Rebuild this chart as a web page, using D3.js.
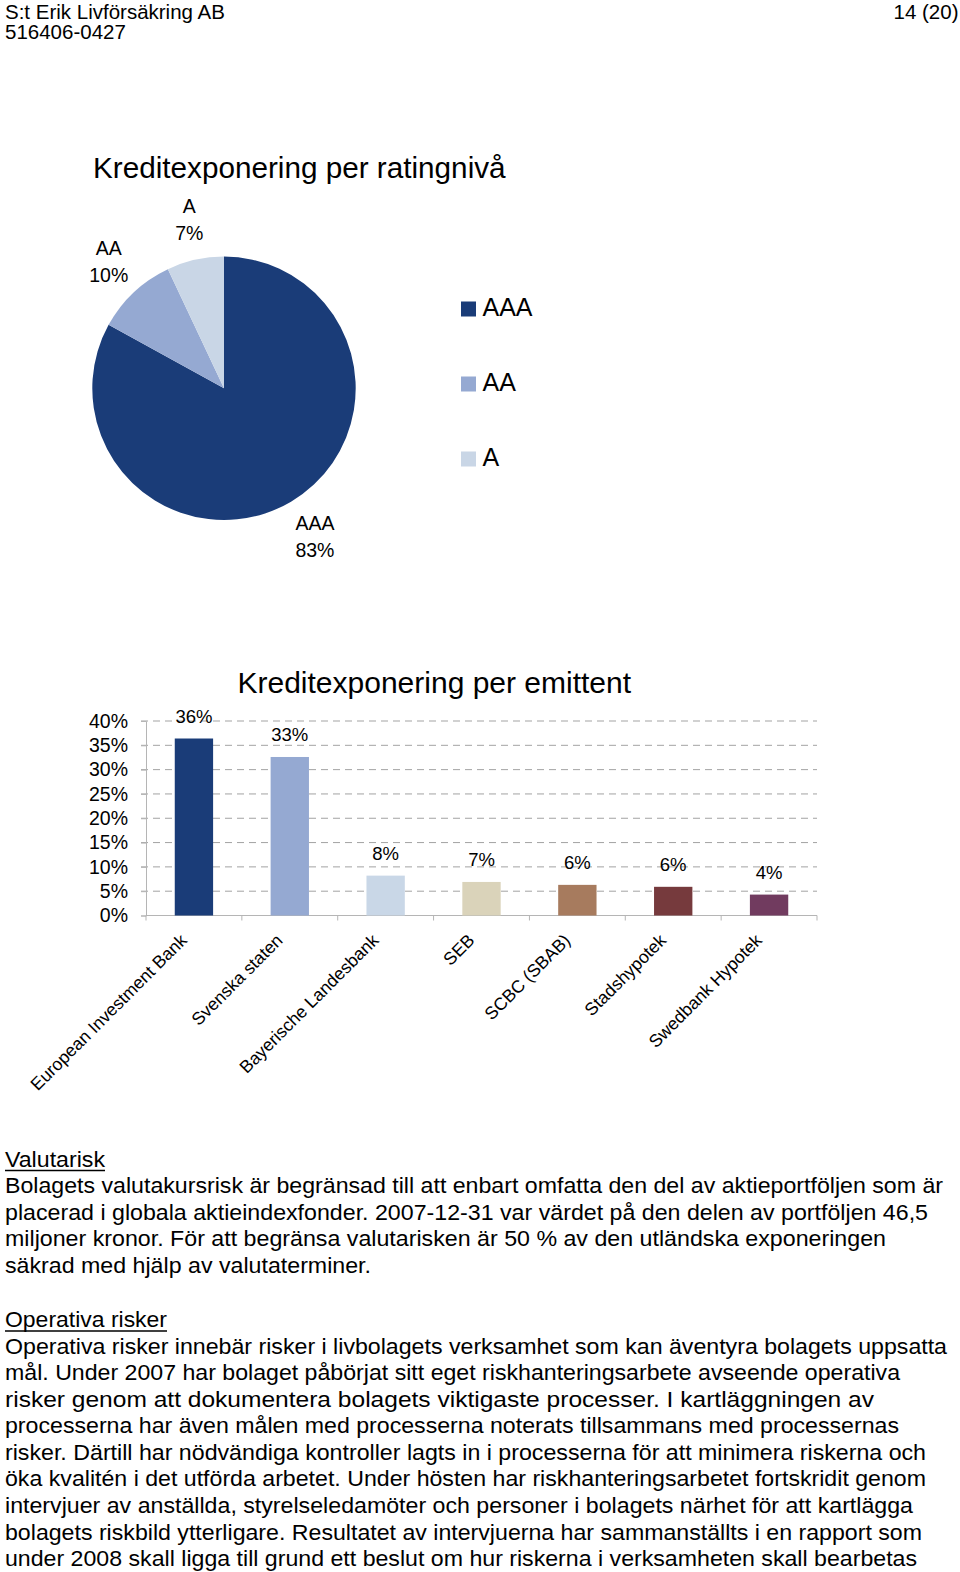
<!DOCTYPE html>
<html><head><meta charset="utf-8">
<script src="https://cdn.jsdelivr.net/npm/d3@7"></script>
<style>
body{margin:0;background:#fff}
svg{display:block}
text{font-family:"Liberation Sans",Arial,sans-serif;fill:#000}
</style>
</head><body>
<svg id="c" width="960" height="1572"></svg>
<script>
// ---------- data ----------
const ratingLabels = ["AAA", "AA", "A"];
const ratingValues = [83, 10, 7];

const issuers = ["European Investment Bank", "Svenska staten", "Bayerische Landesbank", "SEB", "SCBC (SBAB)", "Stadshypotek", "Swedbank Hypotek"];
const issuerValues = [0.364, 0.326, 0.082, 0.069, 0.063, 0.059, 0.043];
const yTickValues = [0, 0.05, 0.10, 0.15, 0.20, 0.25, 0.30, 0.35, 0.40];

const pieTitle = "Kreditexponering per ratingnivå";
const barTitle = "Kreditexponering per emittent";

const headerLeft = ["S:t Erik Livförsäkring AB", "516406-0427"];
const headerRight = "14 (20)";

const section1Heading = "Valutarisk";
const section1Lines = [
  "Bolagets valutakursrisk är begränsad till att enbart omfatta den del av aktieportföljen som är",
  "placerad i globala aktieindexfonder. 2007-12-31 var värdet på den delen av portföljen 46,5",
  "miljoner kronor. För att begränsa valutarisken är 50 % av den utländska exponeringen",
  "säkrad med hjälp av valutaterminer."
];
const section2Heading = "Operativa risker";
const section2Lines = [
  "Operativa risker innebär risker i livbolagets verksamhet som kan äventyra bolagets uppsatta",
  "mål. Under 2007 har bolaget påbörjat sitt eget riskhanteringsarbete avseende operativa",
  "risker genom att dokumentera bolagets viktigaste processer. I kartläggningen av",
  "processerna har även målen med processerna noterats tillsammans med processernas",
  "risker. Därtill har nödvändiga kontroller lagts in i processerna för att minimera riskerna och",
  "öka kvalitén i det utförda arbetet. Under hösten har riskhanteringsarbetet fortskridit genom",
  "intervjuer av anställda, styrelseledamöter och personer i bolagets närhet för att kartlägga",
  "bolagets riskbild ytterligare. Resultatet av intervjuerna har sammanställts i en rapport som",
  "under 2008 skall ligga till grund ett beslut om hur riskerna i verksamheten skall bearbetas"
];

// ---------- styles / layout ----------
const ratingColors = ["#1a3c78", "#95a9d2", "#c9d6e6"];
const issuerColors = ["#1a3c78", "#95a9d2", "#c9d7e7", "#dad3ba", "#a77b5e", "#763a3d", "#713b5f"];
const section1Widths = [938, 923, 881, 366];
const section2Widths = [942, 895, 869, 894, 921, 921, 908, 917, 912];

const svg = d3.select("#c");
svg.append("rect").attr("width", 960).attr("height", 1572).attr("fill", "#fff");

// ---------- header ----------
svg.selectAll("text.hl").data(headerLeft).join("text").attr("class", "hl")
  .attr("x", 5).attr("y", (d, i) => 18.6 + i * 20).attr("font-size", 20.5).text(d => d);
svg.append("text").attr("x", 958.5).attr("y", 18.6).attr("text-anchor", "end")
  .attr("font-size", 20.5).text(headerRight);

// ---------- pie ----------
svg.append("text").attr("x", 93).attr("y", 178.3).attr("font-size", 29.7).text(pieTitle);

const pieCx = 224, pieCy = 388.3, pieR = 131.7;
const pieData = d3.pie().sort(null).value(d => d)(ratingValues);
const arc = d3.arc().innerRadius(0).outerRadius(pieR);
const gPie = svg.append("g").attr("transform", `translate(${pieCx},${pieCy})`);
gPie.selectAll("path").data(pieData).join("path")
  .attr("d", arc).attr("fill", (d, i) => ratingColors[i]);

const labelArc = d3.arc().innerRadius(pieR + 41).outerRadius(pieR + 41);
pieData.forEach((d, i) => {
  const [lx, ly] = labelArc.centroid(d);
  const g = gPie.append("g").attr("transform", `translate(${lx + 3},${ly})`);
  g.append("text").attr("text-anchor", "middle").attr("y", -7).attr("font-size", 19.5).text(ratingLabels[i]);
  g.append("text").attr("text-anchor", "middle").attr("y", 20).attr("font-size", 19.5).text(d.data + "%");
});

// legend
const legY = d3.scalePoint().domain(ratingLabels).range([309, 459]);
const gLeg = svg.append("g");
gLeg.selectAll("rect").data(ratingLabels).join("rect")
  .attr("x", 461).attr("y", d => legY(d) - 7.5).attr("width", 15).attr("height", 15)
  .attr("fill", (d, i) => ratingColors[i]);
gLeg.selectAll("text").data(ratingLabels).join("text")
  .attr("x", 482.5).attr("y", d => legY(d) + 6.5).attr("font-size", 25).text(d => d);

// ---------- bar chart ----------
svg.append("text").attr("x", 237.5).attr("y", 692.5).attr("font-size", 30).text(barTitle);

const plotL = 146, plotR = 817, plotB = 915.5, plotT = 721;
const x = d3.scaleBand().domain(issuers).range([plotL, plotR]).paddingInner(0.6).paddingOuter(0.3);
const y = d3.scaleLinear().domain([0, 0.40]).range([plotB, plotT]);
const gBar = svg.append("g");

// gridlines
gBar.selectAll("line.grid").data(yTickValues.filter(v => v > 0)).join("line").attr("class", "grid")
  .attr("x1", plotL - 5).attr("x2", plotR).attr("y1", d => y(d)).attr("y2", d => y(d))
  .attr("stroke", "#a3a3a3").attr("stroke-width", 1).attr("stroke-dasharray", "7,5");

// y axis
const yAxis = d3.axisLeft(y).tickValues(yTickValues).tickFormat(d3.format(".0%")).tickSize(5).tickPadding(13);
const gy = gBar.append("g").attr("transform", `translate(${plotL},0)`).call(yAxis);
gy.select(".domain").attr("stroke", "#b5b5b5");
gy.selectAll(".tick line").attr("stroke", "#b5b5b5");
gy.selectAll(".tick text").attr("font-size", 19.5).attr("font-family", "Liberation Sans, Arial, sans-serif").attr("fill", "#000");

// x axis baseline and boundary ticks
gBar.append("line").attr("x1", plotL).attr("x2", plotR).attr("y1", plotB).attr("y2", plotB)
  .attr("stroke", "#b5b5b5");
const bounds = issuers.map(d => x(d) - x.step() * x.paddingOuter()).concat([plotR]);
gBar.selectAll("line.xt").data(bounds).join("line").attr("class", "xt")
  .attr("x1", d => d).attr("x2", d => d).attr("y1", plotB).attr("y2", plotB + 5)
  .attr("stroke", "#b5b5b5");

// bars
gBar.selectAll("rect.bar").data(issuerValues).join("rect").attr("class", "bar")
  .attr("x", (d, i) => x(issuers[i])).attr("width", x.bandwidth())
  .attr("y", d => y(d)).attr("height", d => plotB - y(d))
  .attr("fill", (d, i) => issuerColors[i]);

// value labels
gBar.selectAll("text.val").data(issuerValues).join("text").attr("class", "val")
  .attr("x", (d, i) => x(issuers[i]) + x.bandwidth() / 2).attr("y", d => y(d) - 15.5)
  .attr("text-anchor", "middle").attr("font-size", 18.5).text(d => d3.format(".0%")(d));

// category labels
gBar.selectAll("text.cat").data(issuers).join("text").attr("class", "cat")
  .attr("transform", d => `translate(${x(d) + x.bandwidth() / 2 - 6},${plotB + 26}) rotate(-45)`)
  .attr("text-anchor", "end").attr("font-size", 17.6).text(d => d);

// ---------- paragraphs ----------
const lineH = 26.57;
const paraFont = "'Liberation Sans Narrow','Arial Narrow','Liberation Sans',Arial,sans-serif";
function section(heading, headW, lines, widths, y0) {
  svg.append("text").attr("x", 5).attr("y", y0).attr("font-size", 22)
    .attr("font-family", paraFont).attr("textLength", headW).attr("lengthAdjust", "spacingAndGlyphs").text(heading);
  svg.append("line").attr("x1", 5).attr("x2", 5 + headW).attr("y1", y0 + 4).attr("y2", y0 + 4)
    .attr("stroke", "#000").attr("stroke-width", 1.3);
  svg.selectAll(null).data(lines).join("text")
    .attr("x", 5).attr("y", (d, i) => y0 + (i + 1) * lineH).attr("font-size", 22)
    .attr("font-family", paraFont)
    .attr("textLength", (d, i) => widths[i]).attr("lengthAdjust", "spacingAndGlyphs")
    .text(d => d);
}
section(section1Heading, 100, section1Lines, section1Widths, 1166.5);
section(section2Heading, 162, section2Lines, section2Widths, 1327);
</script>
</body></html>
